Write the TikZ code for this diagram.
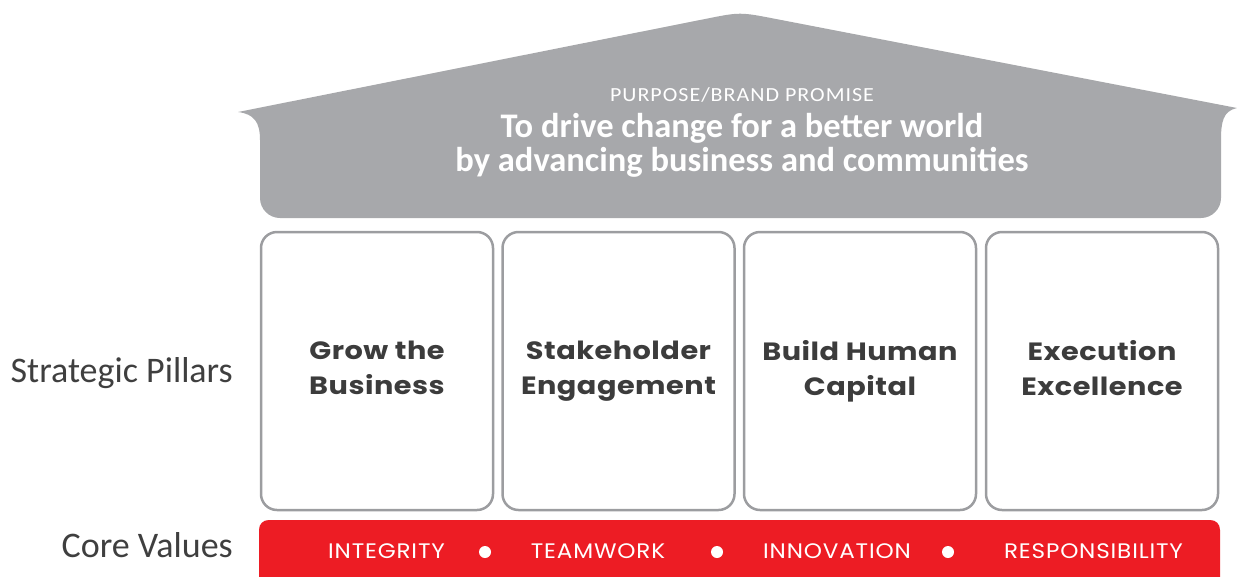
\documentclass[tikz,border=0pt]{standalone}
\usepackage{fontspec}
\setmainfont{Carlito}
\newfontfamily\gotham[FakeStretch=1.1, LetterSpace=4]{Poppins}
\newfontfamily\gothambold[FakeStretch=1.15, LetterSpace=2]{Poppins}
\newfontfamily\purposefont[FakeStretch=1.1, LetterSpace=5]{Carlito}
\definecolor{roofgray}{HTML}{A7A8AB}
\definecolor{pillarline}{HTML}{9C9DA0}
\definecolor{textdark}{HTML}{3C3C3C}
\definecolor{labeldark}{HTML}{3F3F3F}
\definecolor{valred}{HTML}{ED1C24}
\newcommand{\pillartext}[2]{#1\vphantom{hkB}\\#2\vphantom{gB}}
\begin{document}
\begin{tikzpicture}[x=1pt,y=-1pt,
  pillar/.style={draw=pillarline, line width=2.5pt, rounded corners=16pt,
    minimum width=232pt, minimum height=278pt, inner sep=0pt, align=center,
    text=textdark, font=\gothambold\bfseries\fontsize{25}{35}\selectfont},
  valtext/.style={anchor=base, text=white, inner sep=0pt,
    font=\gotham\fontsize{21}{25}\selectfont},
  bullet/.style={circle, fill=white, minimum size=12pt, inner sep=0pt},
  sidelabel/.style={anchor=base east, text=labeldark, inner sep=0pt,
    font=\fontsize{36}{40}\selectfont},
  rooftext/.style={anchor=base, text=white, inner sep=0pt}
]
\useasboundingbox (0,0) rectangle (1237,576);
% roof
\fill[roofgray] (238,112) -- (705,19) .. controls (740,12) .. (775,18.8)
  -- (1237,108) .. controls (1223,111) and (1221,122) .. (1221,140)
  -- (1221,198) .. controls (1221,209) and (1212,218) .. (1201,218)
  -- (280,218) .. controls (269,218) and (260,209) .. (260,198)
  -- (260,140) .. controls (260,122) and (254,114) .. (238,112) -- cycle;
\node[rooftext, font=\purposefont\fontsize{20}{22}\selectfont] (purpose) at (742,101) {PURPOSE/BRAND PROMISE};
\node[rooftext, font=\bfseries\fontsize{34.5}{38}\selectfont] (promise1) at (742,137) {To drive change for a better world};
\node[rooftext, font=\bfseries\fontsize{34.5}{38}\selectfont] (promise2) at (742,171) {by advancing business and communities};
% pillars
\node[pillar] (p1) at (377,371) {\pillartext{Grow the}{Business}};
\node[pillar] (p2) at (618.5,371) {\pillartext{Stakeholder}{Engagement}};
\node[pillar] (p3) at (860,371) {\pillartext{Build Human}{Capital}};
\node[pillar] (p4) at (1102,371) {\pillartext{Execution}{Excellence}};
% core values bar
\fill[valred] (259,578) -- (259,530) .. controls (259,524) and (263,520) .. (269,520)
  -- (1210,520) .. controls (1216,520) and (1220,524) .. (1220,530) -- (1220,578) -- cycle;
\node[valtext] (v1) at (386.5,558) {INTEGRITY};
\node[valtext] (v2) at (598,558) {TEAMWORK};
\node[valtext] (v3) at (837,558) {INNOVATION};
\node[valtext] (v4) at (1093.5,558) {RESPONSIBILITY};
\node[bullet] (b1) at (485,552) {};
\node[bullet] (b2) at (717,552) {};
\node[bullet] (b3) at (948,552) {};
% side labels
\node[sidelabel] (sp) at (233,382) {Strategic Pillars};
\node[sidelabel] (cv) at (233,557) {Core Values};
\end{tikzpicture}
\end{document}
